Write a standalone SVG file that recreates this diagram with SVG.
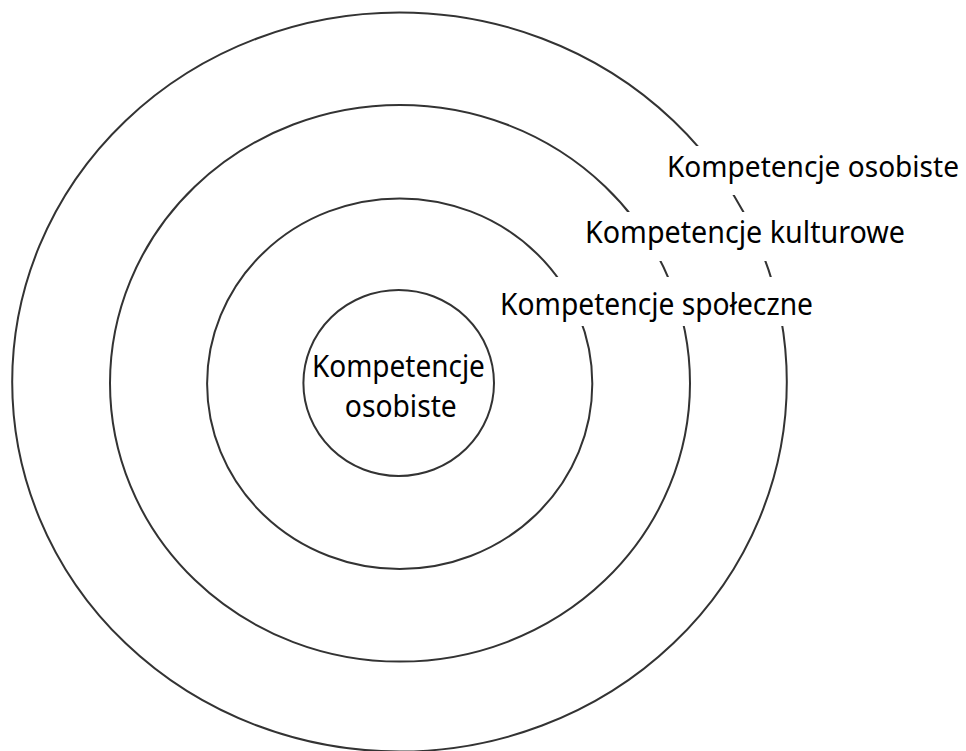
<svg xmlns="http://www.w3.org/2000/svg" width="966" height="751" viewBox="0 0 966 751">
<style>
.ring{fill:none;stroke:#333;stroke-width:2}
.mask{fill:#fff;stroke:none}
.lbl{font-family:"Noto Sans","Open Sans","Liberation Sans",sans-serif;font-size:30px;fill:#000}
</style>
<rect width="966" height="751" fill="#fff"/>
<g id="connectors"/>
<g id="ring-outer">
<ellipse class="ring" cx="399.5" cy="382" rx="387.3" ry="369.5"/>
<rect class="mask" x="658" y="146" width="308" height="49"/>
<text class="lbl" x="667" y="177" style="font-size:28.5px" textLength="292" lengthAdjust="spacingAndGlyphs">Kompetencje osobiste</text>
</g>
<g id="ring-cultural">
<ellipse class="ring" cx="400" cy="383.3" rx="290" ry="278.3"/>
<rect class="mask" x="575" y="212" width="340" height="49"/>
<text class="lbl" x="585" y="242.5" textLength="320" lengthAdjust="spacingAndGlyphs">Kompetencje kulturowe</text>
</g>
<g id="ring-social">
<ellipse class="ring" cx="399.7" cy="383.7" rx="192.6" ry="185.3"/>
<rect class="mask" x="490" y="277" width="333" height="49"/>
<text class="lbl" x="500" y="314.5" textLength="313" lengthAdjust="spacingAndGlyphs">Kompetencje społeczne</text>
</g>
<g id="ring-personal">
<ellipse class="ring" cx="398.7" cy="383" rx="95.3" ry="93"/>
<text class="lbl" x="398.4" y="377" text-anchor="middle" textLength="173" lengthAdjust="spacingAndGlyphs">Kompetencje</text>
<text class="lbl" x="400.8" y="417" text-anchor="middle" textLength="112" lengthAdjust="spacingAndGlyphs">osobiste</text>
</g>
</svg>
